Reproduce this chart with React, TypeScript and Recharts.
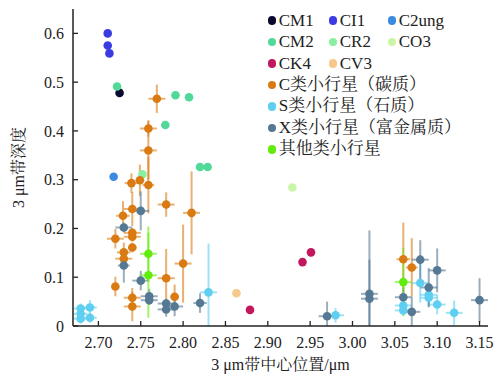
import React from 'react';
import { ScatterChart, Scatter, XAxis, YAxis, ErrorBar } from 'recharts';

// ---- Meteorite spectra: [band centre (μm), band depth] ----
const CM1: number[][] = [[2.725, 0.478]];
const CI1: number[][] = [[2.711, 0.600], [2.711, 0.575], [2.713, 0.559]];
const C2ung: number[][] = [[2.718, 0.306]];
const CM2: number[][] = [
  [2.722, 0.491], [2.791, 0.473], [2.807, 0.469], [2.779, 0.412], [2.820, 0.326], [2.829, 0.326],
];
const CR2: number[][] = [[2.752, 0.311]];
const CO3: number[][] = [[2.929, 0.284]];
const CK4: number[][] = [[2.941, 0.131], [2.951, 0.151], [2.879, 0.033]];
const CV3: number[][] = [[2.863, 0.067]];

// ---- Asteroids: [band centre, depth, centre error, depth error] ----
const Ctype: number[][] = [
  [2.769, 0.466, 0.010, 0.029],
  [2.759, 0.405, 0.010, 0.017],
  [2.759, 0.360, 0.010, 0.060],
  [2.759, 0.289, 0.007, 0.058],
  [2.749, 0.299, 0.005, 0.032],
  [2.739, 0.293, 0.008, 0.020],
  [2.740, 0.240, 0.010, 0.035],
  [2.729, 0.226, 0.008, 0.030],
  [2.780, 0.249, 0.010, 0.025],
  [2.810, 0.232, 0.010, 0.085],
  [2.740, 0.191, 0.010, 0.010],
  [2.740, 0.183, 0.010, 0.010],
  [2.720, 0.179, 0.010, 0.020],
  [2.740, 0.161, 0.005, 0.010],
  [2.730, 0.151, 0.008, 0.020],
  [2.730, 0.138, 0.010, 0.015],
  [2.800, 0.128, 0.010, 0.080],
  [2.780, 0.098, 0.010, 0.060],
  [2.720, 0.081, 0.003, 0.020],
  [2.790, 0.060, 0.005, 0.025],
  [2.740, 0.058, 0.010, 0.020],
  [2.740, 0.040, 0.010, 0.030],
  [3.060, 0.137, 0.008, 0.075],
  [3.070, 0.120, 0.007, 0.060],
];
const Stype: number[][] = [
  [2.679, 0.036, 0.008, 0.010],
  [2.679, 0.025, 0.008, 0.010],
  [2.679, 0.015, 0.008, 0.010],
  [2.690, 0.038, 0.008, 0.015],
  [2.690, 0.017, 0.008, 0.010],
  [2.830, 0.069, 0.010, 0.100],
  [2.980, 0.022, 0.010, 0.015],
  [3.060, 0.042, 0.010, 0.015],
  [3.060, 0.032, 0.010, 0.010],
  [3.080, 0.088, 0.010, 0.040],
  [3.090, 0.064, 0.010, 0.020],
  [3.090, 0.058, 0.010, 0.020],
  [3.100, 0.044, 0.010, 0.020],
  [3.120, 0.027, 0.010, 0.025],
];
const Xtype: number[][] = [
  [2.750, 0.236, 0.010, 0.040],
  [2.730, 0.202, 0.010, 0.010],
  [2.730, 0.124, 0.007, 0.035],
  [2.750, 0.093, 0.010, 0.020],
  [2.760, 0.061, 0.010, 0.015],
  [2.760, 0.053, 0.010, 0.010],
  [2.780, 0.046, 0.010, 0.010],
  [2.780, 0.034, 0.010, 0.015],
  [2.790, 0.040, 0.010, 0.020],
  [2.820, 0.047, 0.008, 0.020],
  [2.970, 0.020, 0.010, 0.030],
  [3.020, 0.066, 0.010, 0.130],
  [3.020, 0.056, 0.010, 0.080],
  [3.060, 0.059, 0.010, 0.020],
  [3.070, 0.029, 0.010, 0.030],
  [3.080, 0.136, 0.010, 0.040],
  [3.090, 0.079, 0.010, 0.040],
  [3.100, 0.114, 0.010, 0.045],
  [3.150, 0.053, 0.010, 0.045],
];
const Other: number[][] = [
  [2.759, 0.148, 0.010, 0.056],
  [2.759, 0.104, 0.010, 0.087],
  [3.060, 0.090, 0.010, 0.070],
];

const xTicks = [2.7, 2.75, 2.8, 2.85, 2.9, 2.95, 3.0, 3.05, 3.1, 3.15];
const yTicks = [0, 0.1, 0.2, 0.3, 0.4, 0.5, 0.6];

type Series = { name: string; color: string; rows: number[][]; errColor?: string };

const meteorites: Series[] = [
  { name: 'CM1', color: '#0b0a2e', rows: CM1 },
  { name: 'CI1', color: '#3b3be4', rows: CI1 },
  { name: 'C2ung', color: '#3a8be0', rows: C2ung },
  { name: 'CM2', color: '#52d898', rows: CM2 },
  { name: 'CR2', color: '#88f0a0', rows: CR2 },
  { name: 'CO3', color: '#c9f6a6', rows: CO3 },
  { name: 'CK4', color: '#c2175d', rows: CK4 },
  { name: 'CV3', color: '#f6c98a', rows: CV3 },
];

const asteroids: Series[] = [
  { name: 'C类小行星（碳质）', color: '#d97b12', rows: Ctype },
  { name: 'S类小行星（石质）', color: '#5ecff0', rows: Stype },
  { name: 'X类小行星（富金属质）', color: '#557893', rows: Xtype },
  { name: '其他类小行星', color: '#62ec0e', rows: Other },
];

const toPoints = (rows: number[][]) =>
  rows.map((r) => ({
    x: r[0],
    y: r[1],
    ex: r[2] ?? 0,
    // lower arm stops at the axis floor
    ey: [Math.min(r[3] ?? 0, r[1]), r[3] ?? 0],
  }));

const FONT = "'Liberation Serif', 'Noto Serif CJK SC', 'Noto Sans CJK SC', serif";

const Dot = (color: string) => (p: any) => (
  <circle cx={p.cx} cy={p.cy} r={4.3} fill={color} />
);

const XTick = (props: any) => {
  const { x, y, payload } = props;
  return (
    <g>
      <line x1={x} y1={y} x2={x} y2={y - 5} stroke="#222" strokeWidth={1.3} />
      <text x={x} y={y + 22} textAnchor="middle" fontSize={16} fontFamily={FONT} fill="#222">
        {Number(payload.value).toFixed(2)}
      </text>
    </g>
  );
};

const YTick = (props: any) => {
  const { x, y, payload } = props;
  return (
    <g>
      <line x1={x} y1={y} x2={x + 5} y2={y} stroke="#222" strokeWidth={1.3} />
      <text x={x - 9} y={y} dy="0.35em" textAnchor="end" fontSize={16} fontFamily={FONT} fill="#222">
        {payload.value === 0 ? '0' : String(payload.value)}
      </text>
    </g>
  );
};

const legendRows: string[][] = [
  ['CM1', 'CI1', 'C2ung'],
  ['CM2', 'CR2', 'CO3'],
  ['CK4', 'CV3'],
  [asteroids[0].name],
  [asteroids[1].name],
  [asteroids[2].name],
  [asteroids[3].name],
];
const allSeries = [...meteorites, ...asteroids];
const colX = [272, 333, 392];

export default function App() {
  return (
    <div style={{ position: 'absolute', left: 0, top: 0, width: 497, height: 377, background: '#fff' }}>
      <ScatterChart width={497} height={377} margin={{ top: 9, right: 9, bottom: 0, left: 0 }}>
        <XAxis
          type="number"
          dataKey="x"
          domain={[2.67, 3.16]}
          ticks={xTicks}
          allowDataOverflow
          height={51}
          tickSize={0}
          tickMargin={0}
          tick={<XTick />}
          axisLine={{ stroke: '#222', strokeWidth: 1.5 }}
          label={(p: any) => {
            const vb = p.viewBox;
            return (
              <text x={vb.x + vb.width / 2} y={vb.y + 44} textAnchor="middle" fontSize={16} fontFamily={FONT} fill="#222">
                3 μm带中心位置/μm
              </text>
            );
          }}
        />
        <YAxis
          type="number"
          dataKey="y"
          domain={[0, 0.65]}
          ticks={yTicks}
          allowDataOverflow
          width={73}
          tickSize={0}
          tickMargin={0}
          tick={<YTick />}
          axisLine={{ stroke: '#222', strokeWidth: 1.5 }}
          label={(p: any) => {
            const vb = p.viewBox;
            const cx = 18;
            const cy = vb.y + vb.height / 2;
            return (
              <text x={cx} y={cy} transform={`rotate(-90 ${cx} ${cy})`} textAnchor="middle" dy="0.35em" fontSize={16} fontFamily={FONT} fill="#222">
                3 μm带深度
              </text>
            );
          }}
        />
        {meteorites.map((s) => (
          <Scatter key={s.name} name={s.name} data={toPoints(s.rows)} shape={Dot(s.color)} isAnimationActive={false} />
        ))}
        {asteroids.map((s) => (
          <Scatter key={s.name} name={s.name} data={toPoints(s.rows)} shape={Dot(s.color)} isAnimationActive={false}>
            <ErrorBar dataKey="ey" direction="y" width={0} stroke={s.color} strokeOpacity={0.6} strokeWidth={2} />
            <ErrorBar dataKey="ex" direction="x" width={0} stroke={s.color} strokeOpacity={0.6} strokeWidth={2} />
          </Scatter>
        ))}
      </ScatterChart>
      {/* legend */}
      {legendRows.map((row, ri) =>
        row.map((name, ci) => {
          const s = allSeries.find((d) => d.name === name)!;
          const cy = 20.6 + ri * 21.45;
          const cx = colX[ci];
          return (
            <div key={name} style={{ position: 'absolute', left: cx - 4.3, top: cy - 10, height: 20, display: 'flex', alignItems: 'center', whiteSpace: 'nowrap' }}>
              <span style={{ width: 8.6, height: 8.6, borderRadius: '50%', background: s.color, display: 'inline-block' }} />
              <span style={{ marginLeft: 2.5, fontSize: 17, fontFamily: FONT, color: '#222', lineHeight: '20px' }}>{name}</span>
            </div>
          );
        })
      )}
    </div>
  );
}
